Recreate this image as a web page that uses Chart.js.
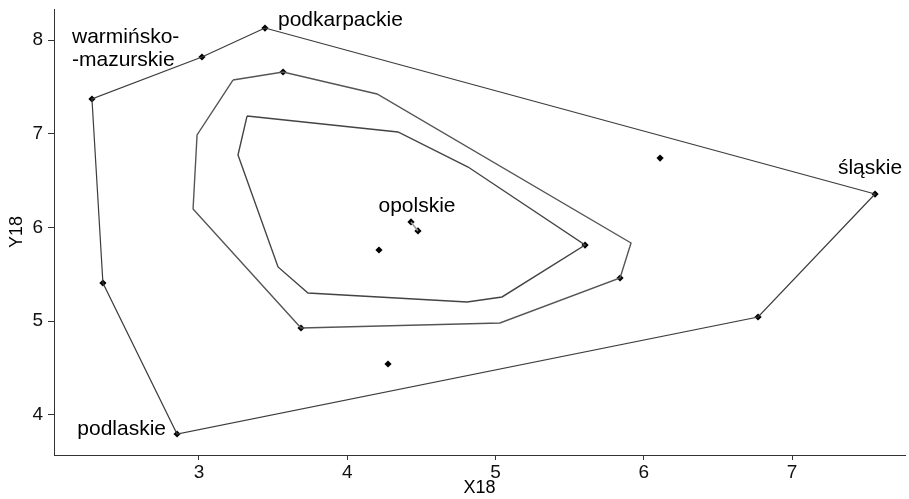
<!DOCTYPE html>
<html>
<head>
<meta charset="utf-8">
<script src="https://cdn.jsdelivr.net/npm/chart.js@4/dist/chart.umd.min.js"></script>
<style>
    body { margin: 0; background: #fff; }
    #wrap { width: 909px; height: 499px; }
</style>
</head>
<body>
<div id="wrap"><canvas id="chart" width="909" height="499"></canvas></div>
<script>
// Regions (voivodeships)
const regions = ['podkarpackie', 'warmińsko-mazurskie', 'r3', 'r4', 'podlaskie', 'r6', 'śląskie',
    'r8', 'r9', 'r10', 'r11', 'r12', 'opolskie', 'r14', 'r15', 'r16'];
const xValues = [3.445, 3.020, 2.278, 2.352, 2.852, 6.771, 7.560, 6.110, 3.567, 3.688, 5.840, 5.604, 4.430, 4.477, 4.214, 4.275];
const yValues = [8.128, 7.819, 7.371, 5.408, 3.797, 5.045, 6.357, 6.741, 7.659, 4.928, 5.461, 5.813, 6.059, 5.963, 5.760, 4.544];

// Outer hull (fence)
const outerX = [3.445, 3.020, 2.278, 2.352, 2.852, 6.771, 7.560, 3.445];
const outerY = [8.128, 7.819, 7.371, 5.408, 3.797, 5.045, 6.357, 8.128];

// Middle contour
const midX = [3.229, 3.567, 4.201, 5.914, 5.840, 5.030, 3.688, 2.960, 2.987, 3.229];
const midY = [7.573, 7.659, 7.424, 5.835, 5.461, 4.981, 4.928, 6.197, 6.987, 7.573];

// Inner contour
const innerX = [3.324, 4.342, 4.815, 5.604, 5.044, 4.808, 3.735, 3.533, 3.263, 3.324];
const innerY = [7.189, 7.019, 6.645, 5.813, 5.259, 5.205, 5.301, 5.579, 6.773, 7.189];

// Median mark
const medianX = [4.430, 4.477];
const medianY = [6.059, 5.963];

const xTicks = [3, 4, 5, 6, 7];
const yTicks = [4, 5, 6, 7, 8];

// Labelled points: name -> text lines
const labelled = {
    'podkarpackie': ['podkarpackie'],
    'warmińsko-mazurskie': ['warmińsko-', '-mazurskie'],
    'podlaskie': ['podlaskie'],
    'śląskie': ['śląskie'],
    'opolskie': ['opolskie']
};

function toPoints(xs, ys) {
    return xs.map((x, i) => ({ x: x, y: ys[i] }));
}

const lineStyle = {
    showLine: true,
    pointRadius: 0,
    fill: false,
    tension: 0,
    borderColor: '#3c3c3c',
    borderWidth: 1.2
};

// Draw region names next to their points
const labelPlugin = {
    id: 'regionLabels',
    afterDatasetsDraw(chart) {
        const ctx = chart.ctx;
        const xs = chart.scales.x;
        const ys = chart.scales.y;
        const placement = {
            'podkarpackie': { dx: 13, dy: -8, align: 'left' },
            'warmińsko-mazurskie': { dx: -130, dy: -20, align: 'left' },
            'podlaskie': { dx: -11, dy: -5, align: 'right' },
            'śląskie': { dx: -5, dy: -26, align: 'center' },
            'opolskie': { dx: 6, dy: -16, align: 'center' }
        };
        ctx.save();
        ctx.fillStyle = '#000';
        ctx.font = '21px "Liberation Sans", Arial, sans-serif';
        ctx.textBaseline = 'middle';
        regions.forEach((name, i) => {
            if (!labelled[name]) return;
            const p = placement[name];
            const px = xs.getPixelForValue(xValues[i]) + p.dx;
            const py = ys.getPixelForValue(yValues[i]) + p.dy;
            ctx.textAlign = p.align;
            labelled[name].forEach((line, k) => {
                ctx.fillText(line, px, py + k * 23);
            });
        });
        ctx.restore();
    }
};

const axisFont = { family: '"Liberation Sans", Arial, sans-serif', size: 19 };
const titleFont = { family: '"Liberation Sans", Arial, sans-serif', size: 18 };

new Chart(document.getElementById('chart').getContext('2d'), {
    type: 'scatter',
    data: {
        datasets: [
            Object.assign({ data: toPoints(outerX, outerY) }, lineStyle),
            Object.assign({ data: toPoints(midX, midY) }, lineStyle, { borderColor: '#555', borderWidth: 1.4 }),
            Object.assign({ data: toPoints(innerX, innerY) }, lineStyle, { borderColor: '#444', borderWidth: 1.4 }),
            Object.assign({ data: toPoints(medianX, medianY) }, lineStyle, { borderColor: '#999', borderWidth: 1.5 }),
            {
                data: toPoints(xValues, yValues),
                pointStyle: 'rectRot',
                pointRadius: 3.6,
                backgroundColor: '#000',
                borderColor: '#000',
                borderWidth: 0
            }
        ]
    },
    options: {
        responsive: false,
        animation: false,
        devicePixelRatio: 1,
        layout: { padding: { top: 9, right: 0, left: 0, bottom: 0 } },
        plugins: {
            legend: { display: false },
            tooltip: { enabled: false }
        },
        scales: {
            x: {
                type: 'linear',
                min: 2.022,
                max: 7.762,
                afterBuildTicks: (scale) => { scale.ticks = xTicks.map(v => ({ value: v })); },
                afterFit: (scale) => {
                    scale.height = 44;
                    scale.paddingLeft = 0;
                    scale.paddingRight = 0;
                },
                grid: { drawOnChartArea: false, drawTicks: true, tickLength: 5, color: '#333' },
                border: { display: true, color: '#333', width: 1 },
                ticks: { color: '#111', font: axisFont, padding: 1, maxRotation: 0 },
                title: { display: true, text: 'X18', color: '#000', font: titleFont, padding: { top: 0, bottom: 0 } }
            },
            y: {
                type: 'linear',
                min: 3.573,
                max: 8.331,
                afterBuildTicks: (scale) => { scale.ticks = yTicks.map(v => ({ value: v })); },
                afterFit: (scale) => {
                    scale.width = 54;
                    scale.paddingTop = 0;
                    scale.paddingBottom = 0;
                },
                grid: { drawOnChartArea: false, drawTicks: true, tickLength: 6, color: '#333' },
                border: { display: true, color: '#333', width: 1 },
                ticks: { color: '#111', font: axisFont, padding: 5 },
                title: { display: true, text: 'Y18', color: '#000', font: titleFont, padding: { top: 6, bottom: 0 } }
            }
        }
    },
    plugins: [labelPlugin]
});
</script>
</body>
</html>
